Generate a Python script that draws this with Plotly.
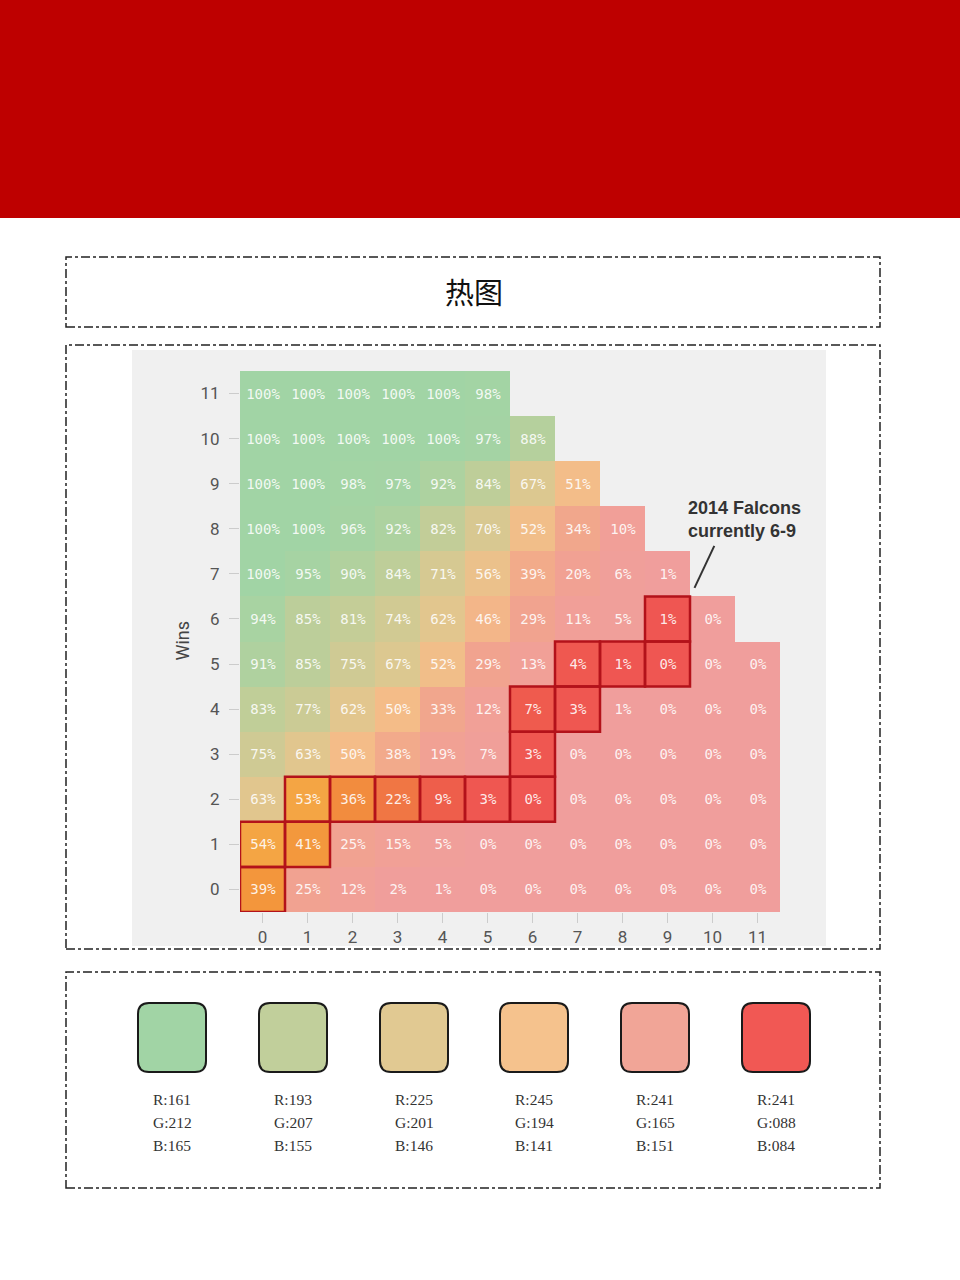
import plotly.graph_objects as go

# ---------------- data ----------------
losses = list(range(12))          # x categories
wins = list(range(12))            # y categories
x_tick_labels = [str(v) for v in losses]
y_tick_labels = [str(v) for v in wins]

# probability (%) by wins row, indexed by losses column
wins_11 = [100, 100, 100, 100, 100, 98]
wins_10 = [100, 100, 100, 100, 100, 97, 88]
wins_9 = [100, 100, 98, 97, 92, 84, 67, 51]
wins_8 = [100, 100, 96, 92, 82, 70, 52, 34, 10]
wins_7 = [100, 95, 90, 84, 71, 56, 39, 20, 6, 1]
wins_6 = [94, 85, 81, 74, 62, 46, 29, 11, 5, 1, 0]
wins_5 = [91, 85, 75, 67, 52, 29, 13, 4, 1, 0, 0, 0]
wins_4 = [83, 77, 62, 50, 33, 12, 7, 3, 1, 0, 0, 0]
wins_3 = [75, 63, 50, 38, 19, 7, 3, 0, 0, 0, 0, 0]
wins_2 = [63, 53, 36, 22, 9, 3, 0, 0, 0, 0, 0, 0]
wins_1 = [54, 41, 25, 15, 5, 0, 0, 0, 0, 0, 0, 0]
wins_0 = [39, 25, 12, 2, 1, 0, 0, 0, 0, 0, 0, 0]

# highlighted path (Falcons' route)
path_losses = [0, 0, 1, 1, 2, 3, 4, 5, 6, 6, 6, 7, 7, 8, 9, 9]
path_wins = [0, 1, 1, 2, 2, 2, 2, 2, 2, 3, 4, 4, 5, 5, 5, 6]

annotation_text = "2014 Falcons<br>currently 6-9"
title_text = "热图"
y_title = "Wins"

swatch_r = [161, 193, 225, 245, 241, 241]
swatch_g = [212, 207, 201, 194, 165, 88]
swatch_b = [165, 155, 146, 141, 151, 84]

# ---------------- build matrices ----------------
rows = [wins_0, wins_1, wins_2, wins_3, wins_4, wins_5,
        wins_6, wins_7, wins_8, wins_9, wins_10, wins_11]
z = []
txt = []
for r in rows:
    zr = [r[c] if c < len(r) else None for c in losses]
    z.append(zr)
    txt.append([f"{v}%" if v is not None else "" for v in zr])

z_hi = [[None for _ in losses] for _ in wins]
txt_hi = [["" for _ in losses] for _ in wins]
for c, w in zip(path_losses, path_wins):
    z_hi[w][c] = z[w][c]
    txt_hi[w][c] = txt[w][c]

W, H = 960, 1280


def px(x):
    return x / W


def py(y):
    return 1 - y / H


base_scale = [
    [0.0, "rgb(240,158,156)"],
    [0.15, "rgb(241,160,150)"],
    [0.3, "rgb(241,163,142)"],
    [0.4, "rgb(242,172,138)"],
    [0.5, "rgb(244,188,136)"],
    [0.62, "rgb(226,198,142)"],
    [0.72, "rgb(213,201,146)"],
    [0.84, "rgb(190,206,153)"],
    [0.95, "rgb(166,211,163)"],
    [1.0, "rgb(161,212,165)"],
]
hi_scale = [
    [0.0, "rgb(239,86,82)"],
    [0.05, "rgb(239,88,80)"],
    [0.1, "rgb(238,96,74)"],
    [0.22, "rgb(240,118,68)"],
    [0.36, "rgb(242,140,62)"],
    [0.39, "rgb(243,150,60)"],
    [0.45, "rgb(244,155,62)"],
    [0.53, "rgb(244,165,68)"],
    [1.0, "rgb(245,172,72)"],
]

cell_font = dict(family="DejaVu Sans Mono", size=14, color="rgba(255,255,255,0.88)")

fig = go.Figure()
fig.add_trace(go.Heatmap(
    x=losses, y=wins, z=z, text=txt, texttemplate="%{text}",
    textfont=cell_font, colorscale=base_scale, zmin=0, zmax=100,
    showscale=False, hoverinfo="skip"))
fig.add_trace(go.Heatmap(
    x=losses, y=wins, z=z_hi, text=txt_hi, texttemplate="%{text}",
    textfont=cell_font, colorscale=hi_scale, zmin=0, zmax=100,
    showscale=False, hoverinfo="skip"))

shapes = []
# red banner
shapes.append(dict(type="rect", xref="paper", yref="paper", x0=0, x1=1,
                   y0=py(218), y1=1, fillcolor="#BE0000", line=dict(width=0),
                   layer="below"))
# dashed boxes
for (y0, y1) in [(257, 327), (345, 949), (972, 1188)]:
    shapes.append(dict(type="rect", xref="paper", yref="paper",
                       x0=px(66), x1=px(880), y0=py(y1), y1=py(y0),
                       line=dict(color="#222", width=1.5, dash="dashdot"),
                       fillcolor="rgba(0,0,0,0)", layer="below"))
# gray panel
shapes.append(dict(type="rect", xref="paper", yref="paper",
                   x0=px(132), x1=px(826), y0=py(946), y1=py(350),
                   fillcolor="#F0F0F0", line=dict(width=0), layer="below"))

# highlighted cell borders
for c, w in zip(path_losses, path_wins):
    shapes.append(dict(type="rect", xref="x", yref="y",
                       x0=c - 0.5, x1=c + 0.5, y0=w - 0.5, y1=w + 0.5,
                       line=dict(color="#B3121A", width=2.5),
                       fillcolor="rgba(0,0,0,0)", layer="above"))

# annotation leader line
shapes.append(dict(type="line", xref="x", yref="y", x0=10.04, y0=7.62,
                   x1=9.6, y1=6.69, line=dict(color="#333", width=2)))


def rounded_path(x0, y0, x1, y1, r):
    pts = (f"M {px(x0 + r)},{py(y0)} L {px(x1 - r)},{py(y0)} "
           f"Q {px(x1)},{py(y0)} {px(x1)},{py(y0 + r)} "
           f"L {px(x1)},{py(y1 - r)} Q {px(x1)},{py(y1)} {px(x1 - r)},{py(y1)} "
           f"L {px(x0 + r)},{py(y1)} Q {px(x0)},{py(y1)} {px(x0)},{py(y1 - r)} "
           f"L {px(x0)},{py(y0 + r)} Q {px(x0)},{py(y0)} {px(x0 + r)},{py(y0)} Z")
    return pts


annotations = []
sw_centers = [172, 293, 414, 534, 655, 776]
for i, cx in enumerate(sw_centers):
    col = f"rgb({swatch_r[i]},{swatch_g[i]},{swatch_b[i]})"
    shapes.append(dict(type="path", xref="paper", yref="paper",
                       path=rounded_path(cx - 34, 1003, cx + 34, 1072, 11),
                       fillcolor=col, line=dict(color="#1a1a1a", width=2)))
    for j, (lab, val) in enumerate(zip(["R", "G", "B"],
                                       [swatch_r[i], swatch_g[i], swatch_b[i]])):
        annotations.append(dict(
            xref="paper", yref="paper", x=px(cx), y=py(1099 + 23 * j),
            text=f"{lab}:{val:03d}", showarrow=False, xanchor="center",
            yanchor="middle",
            font=dict(family="Liberation Serif", size=15.5, color="#333")))

annotations.append(dict(xref="paper", yref="paper", x=px(474), y=py(291),
                        text=title_text, showarrow=False, yanchor="middle",
                        font=dict(family="Noto Sans CJK SC", size=29, color="#111")))
annotations.append(dict(xref="paper", yref="paper", x=px(169), y=py(641),
                        text=y_title, showarrow=False, textangle=-90,
                        font=dict(family="Roboto", size=18, color="#444")))
annotations.append(dict(xref="x", yref="y", x=9.42, y=8.2, text=annotation_text,
                        showarrow=False, xanchor="left", yanchor="middle",
                        align="left",
                        font=dict(family="Liberation Sans", size=18, color="#333",
                                  weight="bold")))

tick_font = dict(family="Roboto", size=17, color="#555")
fig.update_layout(
    width=W, height=H, margin=dict(l=0, r=0, t=0, b=0),
    paper_bgcolor="white", plot_bgcolor="rgba(0,0,0,0)",
    shapes=shapes, annotations=annotations, showlegend=False,
    xaxis=dict(domain=[px(240), px(780)], range=[-0.5, 11.5],
               tickvals=losses, ticktext=x_tick_labels, ticks="outside",
               ticklen=10, tickcolor="#ccc", tickfont=tick_font,
               showgrid=False, zeroline=False, showline=False, fixedrange=True),
    yaxis=dict(domain=[py(912), py(371)], range=[-0.5, 11.5],
               tickvals=wins, ticktext=y_tick_labels, ticks="outside",
               ticklen=10, tickcolor="#ccc", tickfont=tick_font,
               ticklabelstandoff=6,
               showgrid=False, zeroline=False, showline=False, fixedrange=True),
)

fig.write_html("out.html")
